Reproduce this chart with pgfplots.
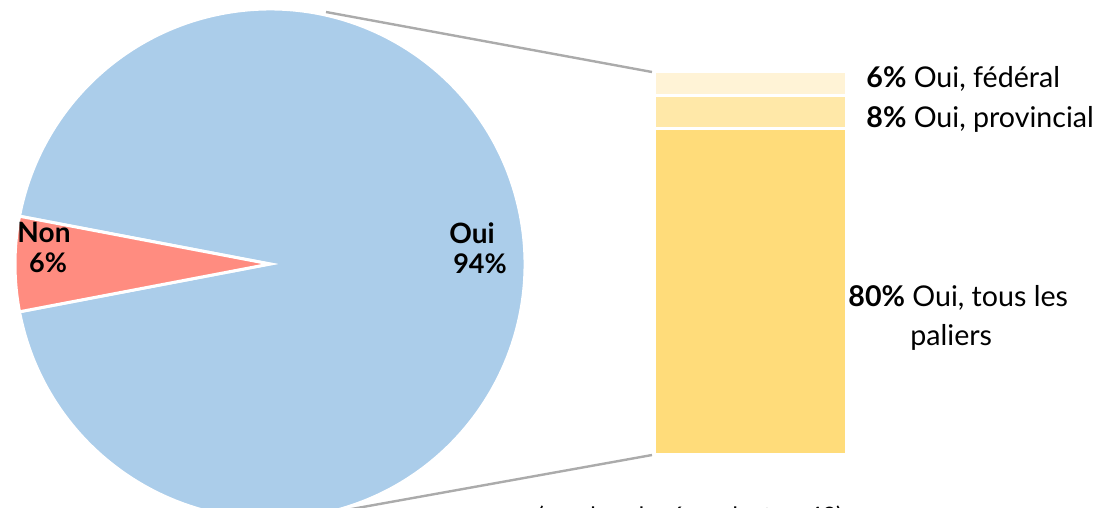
\documentclass[border=0pt]{standalone}
\usepackage{pgfplots}
\pgfplotsset{compat=1.18}
\usepackage{fontspec}
\setmainfont{Lato}
\definecolor{pieblue}{HTML}{ABCDEA}
\definecolor{piered}{HTML}{FF8C80}
\definecolor{ylight}{HTML}{FFF3D6}
\definecolor{ymid}{HTML}{FFE8A8}
\definecolor{ydark}{HTML}{FFDC7A}
\definecolor{conn}{HTML}{ABABAB}
\begin{document}
\begin{tikzpicture}
\def\nonpct{6}
\def\ouipct{94}
\pgfmathsetmacro{\nonang}{\nonpct*3.6}
\pgfmathsetmacro{\sa}{180-\nonang/2}
\pgfmathsetmacro{\ea}{180+\nonang/2}
\pgfmathsetmacro{\eb}{\sa+360}
\begin{axis}[at={(0,0)}, anchor=south west, scale only axis,
  width=553.5pt, height=254pt, xmin=0, xmax=1107, ymin=0, ymax=508,
  y dir=reverse, hide axis, clip=true]
\addplot[draw=none, forget plot] coordinates {(0,0) (1107,508)};
\filldraw[fill=pieblue, draw=white, line width=1.5pt] (axis cs:270,264) -- ++(\ea:127.5pt) arc[start angle=\ea, end angle=\eb, radius=127.5pt] -- cycle;
\filldraw[fill=piered, draw=white, line width=1.5pt] (axis cs:270,264) -- ++(\sa:127.5pt) arc[start angle=\sa, end angle=\ea, radius=127.5pt] -- cycle;
\draw[conn, line width=1.2pt] (axis cs:326,12) -- (axis cs:652,72);
\draw[conn, line width=1.2pt] (axis cs:335,512) -- (axis cs:652,455);
\node[anchor=base, font=\fontsize{14}{16}\selectfont\bfseries, inner sep=0pt] at (axis cs:472,243) {Oui};
\node[anchor=base, font=\fontsize{13.5}{16}\selectfont\bfseries, inner sep=0pt] at (axis cs:480,273) {\ouipct\%};
\node[anchor=base, font=\fontsize{14}{16}\selectfont\bfseries, inner sep=0pt] at (axis cs:44,242) {Non};
\node[anchor=base, font=\fontsize{13.5}{16}\selectfont\bfseries, inner sep=0pt] at (axis cs:48,272) {\nonpct\%};
\node[anchor=base west, font=\fontsize{14.3}{16}\selectfont, inner sep=0pt] at (axis cs:866,88) {\textbf{6\%} Oui, fédéral};
\node[anchor=base west, font=\fontsize{14.3}{16}\selectfont, inner sep=0pt] at (axis cs:866,127) {\textbf{8\%} Oui, provincial};
\node[anchor=base west, font=\fontsize{14.3}{16}\selectfont, inner sep=0pt] at (axis cs:848,306) {\textbf{80\%} Oui, tous les};
\node[anchor=base west, font=\fontsize{14.3}{16}\selectfont, inner sep=0pt] at (axis cs:910,345) {paliers};
\node[anchor=base, font=\fontsize{12}{14}\selectfont, inner sep=0pt] at (axis cs:690,524) {(nombre de répondants = 43)};
\end{axis}
\begin{axis}[at={(327.25pt,26.75pt)}, anchor=south west, scale only axis,
  width=96pt, height=191.5pt, xmin=-0.5, xmax=0.5, ymin=0, ymax=94,
  ybar stacked, bar width=1, hide axis, clip=false]
\addplot[fill=ydark, draw=white, line width=1.5pt] coordinates {(0,80)};
\addplot[fill=ymid, draw=white, line width=1.5pt] coordinates {(0,8)};
\addplot[fill=ylight, draw=white, line width=1.5pt] coordinates {(0,6)};
\end{axis}
\pgfresetboundingbox
\useasboundingbox (0,0) rectangle (553.5pt,254pt);
\end{tikzpicture}
\end{document}
